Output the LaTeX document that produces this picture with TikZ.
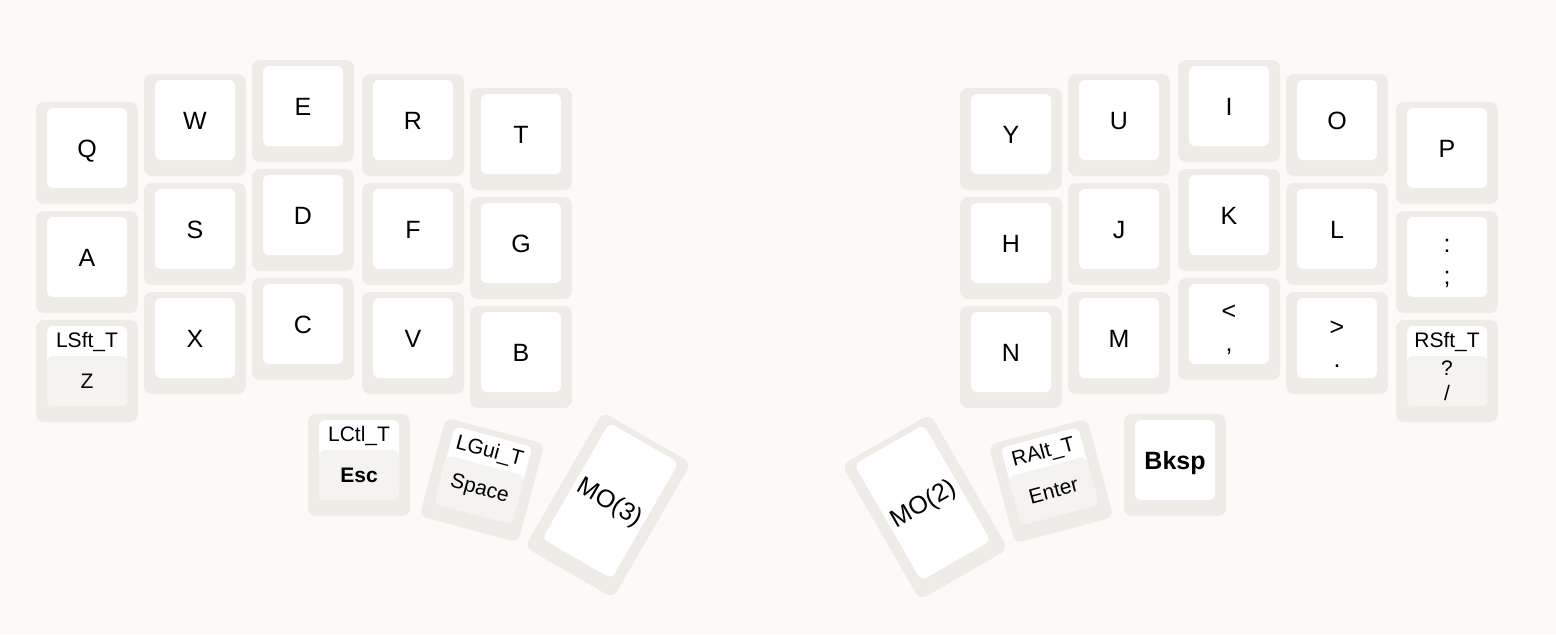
\documentclass[tikz,border=0pt]{standalone}
\usepackage{fontspec}
\setmainfont{Liberation Sans}
\usepackage{xcolor}
\usepackage{tikz}
\usetikzlibrary{positioning,calc}

\definecolor{pagebg}{RGB}{252,249,246}
\definecolor{capside}{RGB}{239,236,232}
\definecolor{captap}{RGB}{245,243,240}

% plain key: name, x, y, rotation, label
\newcommand{\keycap}[5]{%
  \begin{scope}[shift={(#2,-#3)}, rotate=#4, transform shape]
    \node[keyside] (#1) at (0,0) {};
    \node[keytop] (#1-top) at (0,5) {#5};
  \end{scope}}

% key with a shifted symbol: name, x, y, upper, lower
\newcommand{\shiftcap}[5]{%
  \keycap{#1}{#2}{#3}{0}{}
  \node[shiftlabel] (#1-lbl) at ($(#1-top)+(0,-6)$) {#4\\#5};}

% hold-tap key: name, x, y, rotation, hold, tap
\newcommand{\holdcap}[6]{%
  \begin{scope}[shift={(#2,-#3)}, rotate=#4, transform shape]
    \node[keyside] (#1) at (0,0) {};
    \node[keytop] (#1-top) at (0,5) {};
    \node[keytap] (#1-tap) at (0,-10) {#6};
    \node[holdlabel] (#1-hold) at (0,29) {#5};
  \end{scope}}

\begin{document}
\begin{tikzpicture}[x=0.5pt, y=0.5pt,
    keyside/.style={rectangle, rounded corners=4pt, fill=capside, inner sep=0pt,
      minimum width=51pt, minimum height=51pt},
    keytop/.style={rectangle, rounded corners=3pt, fill=white, inner sep=0pt,
      minimum width=40pt, minimum height=40pt, text height=9pt, text depth=0pt,
      font=\fontsize{12.5}{15}\selectfont},
    shiftlabel/.style={inner sep=0pt, align=center, font=\fontsize{12.5}{16}\selectfont},
    keytap/.style={rectangle, rounded corners=3pt, fill=captap, inner sep=0pt, align=center,
      minimum width=40pt, minimum height=25pt, font=\fontsize{10.5}{12.5}\selectfont},
    holdlabel/.style={inner sep=0pt, font=\fontsize{10.5}{12}\selectfont}]

    % Page
    \fill[pagebg] (0,0) rectangle (1556,-634);
    \useasboundingbox (0,0) rectangle (1556,-634);

    % Left half
    \keycap{kq}{87}{153}{0}{Q}
    \keycap{ka}{87}{262}{0}{A}
    \holdcap{kz}{87}{371}{0}{LSft\_T}{Z}
    \keycap{kw}{195}{125}{0}{W}
    \keycap{ks}{195}{234}{0}{S}
    \keycap{kx}{195}{343}{0}{X}
    \keycap{ke}{303}{111}{0}{E}
    \keycap{kd}{303}{220}{0}{D}
    \keycap{kc}{303}{329}{0}{C}
    \keycap{kr}{413}{125}{0}{R}
    \keycap{kf}{413}{234}{0}{F}
    \keycap{kv}{413}{343}{0}{V}
    \keycap{kt}{521}{139}{0}{T}
    \keycap{kg}{521}{248}{0}{G}
    \keycap{kb}{521}{357}{0}{B}

    % Right half
    \keycap{ky}{1011}{139}{0}{Y}
    \keycap{kh}{1011}{248}{0}{H}
    \keycap{kn}{1011}{357}{0}{N}
    \keycap{ku}{1119}{125}{0}{U}
    \keycap{kj}{1119}{234}{0}{J}
    \keycap{km}{1119}{343}{0}{M}
    \keycap{ki}{1229}{111}{0}{I}
    \keycap{kk}{1229}{220}{0}{K}
    \shiftcap{kcomma}{1229}{329}{<}{,}
    \keycap{ko}{1337}{125}{0}{O}
    \keycap{kl}{1337}{234}{0}{L}
    \shiftcap{kdot}{1337}{343}{>}{.}
    \keycap{kp}{1447}{153}{0}{P}
    \shiftcap{ksemi}{1447}{262}{:}{;}
    \holdcap{kslash}{1447}{371}{0}{RSft\_T}{?\\/}

    % Thumbs
    \holdcap{kesc}{359}{465}{0}{LCtl\_T}{\bfseries Esc}
    \holdcap{kspace}{482}{480}{-15}{LGui\_T}{Space}
    \begin{scope}[shift={(608,-505)}, rotate=-30, transform shape]
      \node[keyside, minimum height=78pt] (kmo3) at (0,0) {};
      \node[keytop, minimum height=67pt] (kmo3-top) at (0,5) {MO(3)};
    \end{scope}
    \begin{scope}[shift={(925,-507)}, rotate=30, transform shape]
      \node[keyside, minimum height=78pt] (kmo2) at (0,0) {};
      \node[keytop, minimum height=67pt] (kmo2-top) at (0,5) {MO(2)};
    \end{scope}
    \holdcap{kenter}{1051}{481}{15}{RAlt\_T}{Enter}
    \keycap{kbksp}{1175}{465}{0}{\bfseries Bksp}
\end{tikzpicture}
\end{document}
